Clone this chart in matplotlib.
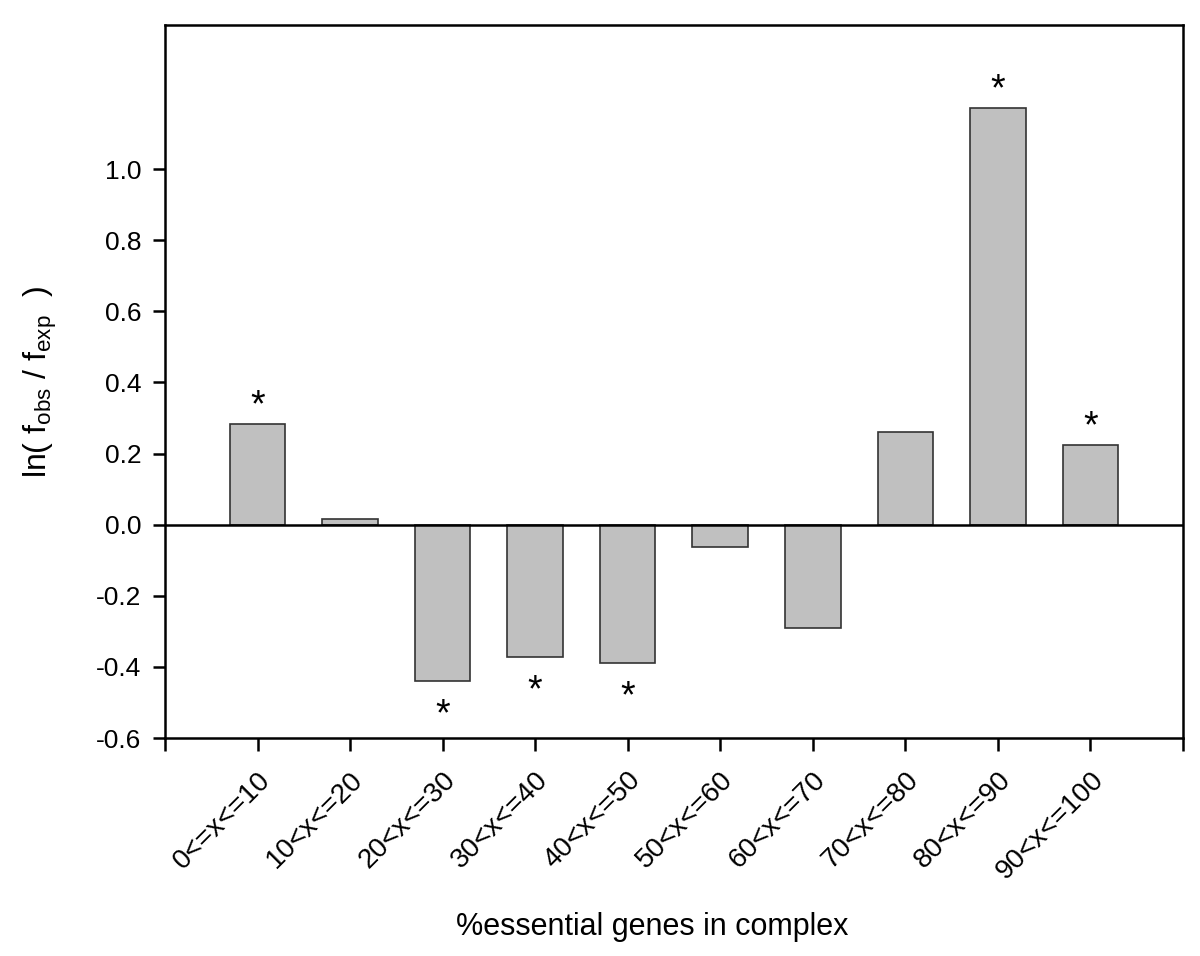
import matplotlib
matplotlib.use("Agg")
import matplotlib.pyplot as plt

categories = ["0<=x<=10", "10<x<=20", "20<x<=30", "30<x<=40", "40<x<=50",
              "50<x<=60", "60<x<=70", "70<x<=80", "80<x<=90", "90<x<=100"]
values = [0.282, 0.017, -0.439, -0.372, -0.389, -0.062, -0.290, 0.262, 1.172, 0.225]
significant = [True, False, True, True, True, False, False, False, True, True]
yticks = [-0.6, -0.4, -0.2, 0.0, 0.2, 0.4, 0.6, 0.8, 1.0]

plt.rcParams['font.family'] = ['Liberation Sans', 'DejaVu Sans']
plt.rcParams['mathtext.fontset'] = 'custom'
plt.rcParams['mathtext.rm'] = 'Liberation Sans'
plt.rcParams['mathtext.it'] = 'Liberation Sans'

fig = plt.figure(figsize=(12, 9.56), dpi=100)
ax = fig.add_axes([0.1375, 0.228, 0.8483, 0.7458])

xpos = list(range(1, len(categories) + 1))
ax.bar(xpos, values, width=0.6, color='#c0c0c0', edgecolor='#333333', linewidth=1.2, zorder=2)
ax.axhline(0, color='black', linewidth=1.8, zorder=3)

for x, v, s in zip(xpos, values, significant):
    if s:
        if v >= 0:
            ax.annotate('*', (x, v), xytext=(0, 5.5), textcoords='offset points',
                        ha='center', va='baseline', fontsize=27)
        else:
            ax.annotate('*', (x, v), xytext=(0, -32), textcoords='offset points',
                        ha='center', va='baseline', fontsize=27)

ax.set_xlim(0, 11)
ax.set_ylim(-0.6, 1.405)
ax.set_xticks(range(0, 12))
ax.set_xticklabels([''] + categories + [''], rotation=45, ha='right',
                   rotation_mode='anchor', fontsize=20)
ax.set_yticks(yticks)
ax.set_yticklabels([f"{t:.1f}" for t in yticks], fontsize=19)
ax.tick_params(axis='both', direction='out', length=9, width=1.8, pad=8)
ax.tick_params(axis='x', pad=12)
for sp in ax.spines.values():
    sp.set_linewidth(1.8)

fig.text(40 / 1200, 1 - 382 / 956,
         r'ln( f$_{\mathrm{obs}}$ / f$_{\mathrm{exp}}$  )',
         rotation=90, ha='center', va='center', fontsize=23)
fig.text(652 / 1200, 1 - 927 / 956, '%essential genes in complex',
         ha='center', va='center', fontsize=22)

fig.savefig('out.png', dpi=100)
